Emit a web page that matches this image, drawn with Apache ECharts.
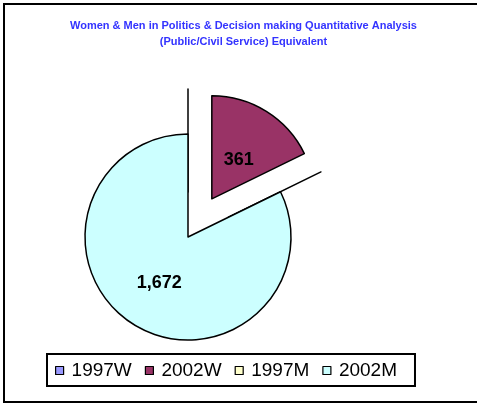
<!DOCTYPE html>
<html>
<head>
<meta charset="utf-8">
<script src="https://cdn.jsdelivr.net/npm/echarts@6/dist/echarts.min.js"></script>
<style>
html, body { margin: 0; padding: 0; background: #fff; overflow: hidden; }
#frame { position: absolute; left: 3px; top: 3px; width: 500px; height: 400px; box-sizing: border-box; border: 2px solid #000; }
#chart { position: absolute; left: 5px; top: 0; width: 477px; height: 405px; }
</style>
</head>
<body>
<div id="frame"></div>
<div id="chart"></div>
<script>
const titleLines = ['Women & Men in Politics & Decision making Quantitative Analysis', '(Public/Civil Service) Equivalent'];
const categories = ['1997W', '2002W', '1997M', '2002M'];
const values = [0, 361, 0, 1672];
const colors = ['#9999ff', '#993366', '#ffffcc', '#ccffff'];
const exploded = [true, true, true, false];

const chart = echarts.init(document.getElementById('chart'), null, { renderer: 'canvas' });
const font = 'Arial, "Liberation Sans", sans-serif';

const pieData = categories.map((name, i) => ({
  name: name,
  value: values[i],
  selected: exploded[i],
  itemStyle: { color: colors[i] },
  label: { show: values[i] > 0 }
}));

chart.setOption({
  animation: false,
  title: {
    text: titleLines.join('\n'),
    left: 'center',
    top: 18,
    padding: 0,
    textStyle: {
      color: '#3333ff',
      fontSize: 11,
      fontWeight: 'bold',
      fontFamily: font,
      lineHeight: 16
    }
  },
  legend: {
    data: categories,
    orient: 'horizontal',
    left: 42,
    top: 354,
    padding: [7, 18, 6, 8],
    borderColor: '#000',
    borderWidth: 2,
    itemWidth: 8,
    itemHeight: 8,
    itemGap: 13,
    icon: 'rect',
    selectedMode: false,
    itemStyle: { borderColor: '#000', borderWidth: 1.2 },
    textStyle: { fontSize: 19, color: '#000', fontFamily: font, padding: [0, 0, 0, 3] }
  },
  series: [{
    type: 'pie',
    center: [183, 237],
    radius: [0, 103],
    startAngle: 90,
    clockwise: true,
    selectedMode: 'multiple',
    selectedOffset: 45,
    avoidLabelOverlap: false,
    stillShowZeroSum: false,
    itemStyle: { borderColor: '#000', borderWidth: 1.5 },
    select: { itemStyle: { borderColor: '#000', borderWidth: 1.5 } },
    emphasis: { disabled: true },
    label: {
      position: 'inside',
      fontSize: 18,
      fontWeight: 'bold',
      color: '#000',
      fontFamily: font,
      formatter: p => p.value.toLocaleString('en-US')
    },
    labelLayout: p => (p.dataIndex === 1 ? { dx: -2, dy: 7 } : {}),
    labelLine: { show: false },
    data: pieData
  }]
});
</script>
</body>
</html>
